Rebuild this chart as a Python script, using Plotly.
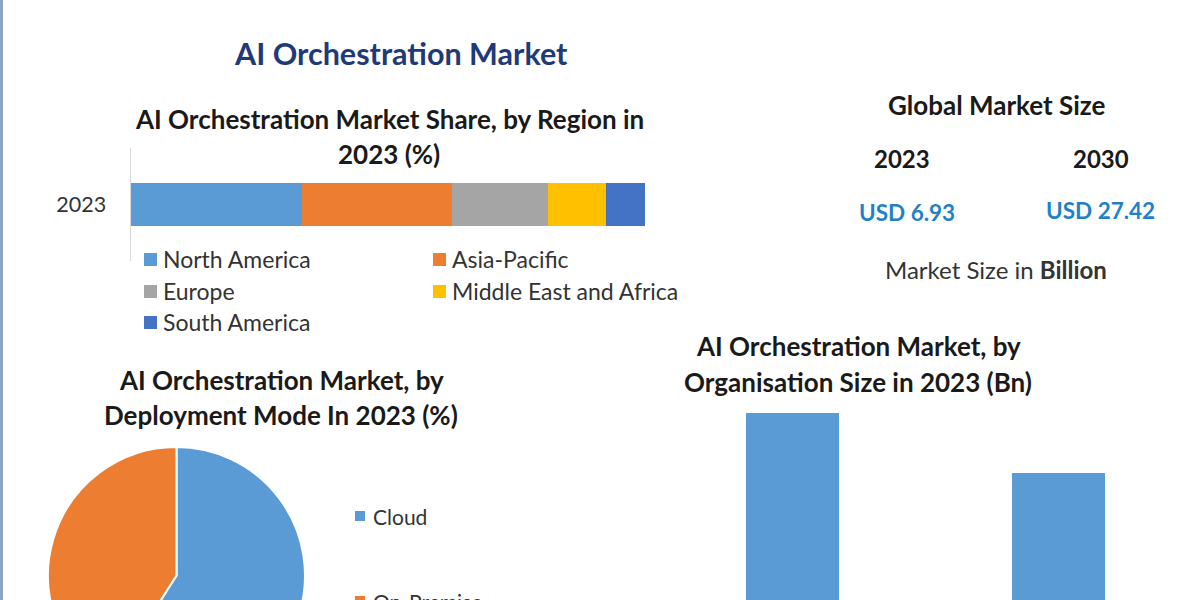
import plotly.graph_objects as go

H = 720  # taller than the window, the bottom of the pie and bars is cut off like in the original

years = ['2023']
regions = ['North America', 'Asia-Pacific', 'Europe', 'Middle East and Africa', 'South America']
region_share = [33.4, 29.1, 18.6, 11.3, 7.6]
region_colors = ['#5b9bd5', '#ed7d31', '#a5a5a5', '#ffc000', '#4472c4']

deployment = ['Cloud', 'On-Premise']
deployment_share = [59, 41]
deployment_colors = ['#5b9bd5', '#ed7d31']

org_size = ['Large Enterprises', 'SMEs']
org_value = [3.97, 2.96]

def py(y):
    return 1 - y / H

fig = go.Figure()

for name, val, col in zip(regions, region_share, region_colors):
    fig.add_trace(go.Bar(y=years, x=[val], name=name, orientation='h', marker_color=col,
                         marker_line_width=0, xaxis='x', yaxis='y', showlegend=False))

fig.add_trace(go.Pie(labels=deployment, values=deployment_share, sort=False, direction='clockwise',
                     rotation=0, textinfo='none', showlegend=False,
                     marker=dict(colors=deployment_colors, line=dict(color='white', width=2)),
                     domain=dict(x=[48 / 1200, 305 / 1200], y=[py(704), py(447)])))

fig.add_trace(go.Bar(x=org_size, y=org_value, width=0.353, marker_color='#5b9bd5', marker_line_width=0,
                     xaxis='x2', yaxis='y2', showlegend=False))

fig.update_layout(
    width=1200, height=H, margin=dict(l=0, r=0, t=0, b=0),
    paper_bgcolor='white', plot_bgcolor='white', barmode='stack', bargap=0.62,
    font=dict(family='Lato', color='#222222'),
    xaxis=dict(domain=[130.5 / 1200, 645 / 1200], range=[0, 100], visible=False),
    yaxis=dict(domain=[py(261), py(148)], type='category', showline=True, linecolor='#d9d9d9', linewidth=1,
               ticks='', ticklabelstandoff=19, tickfont=dict(size=21.5, color='#333333')),
    xaxis2=dict(domain=[659.5 / 1200, 1191.5 / 1200], anchor='y2', type='category', visible=False),
    yaxis2=dict(domain=[py(650), py(400)], range=[0, 4.188], anchor='x2', visible=False),
)

def label(text, x, y, size, color='#1a1a1a', bold=False, anchor='center'):
    fig.add_annotation(text='<b>' + text + '</b>' if bold else text, x=x / 1200, y=py(y), xref='paper', yref='paper',
                       showarrow=False, xanchor=anchor, yanchor='middle', font=dict(size=size, color=color))

label('AI Orchestration Market', 401, 53, 30.5, '#1f3a78', True)
label('AI Orchestration Market Share, by Region in', 389, 119, 26, bold=True)
label('2023 (%)', 389, 154, 26, bold=True)
label('AI Orchestration Market, by', 281, 380, 26, bold=True)
label('Deployment Mode In 2023 (%)', 281, 415, 26, bold=True)
label('AI Orchestration Market, by', 858, 346, 26, bold=True)
label('Organisation Size in 2023 (Bn)', 858, 382, 26, bold=True)
label('Global Market Size', 997, 105, 26, bold=True)
label('2023', 902, 158, 24, bold=True)
label('2030', 1101, 158, 24, bold=True)
label('USD 6.93', 907, 212, 22.5, '#1f82c8', True)
label('USD 27.42', 1100, 210, 22.5, '#1f82c8', True)
label('Market Size in <b>Billion</b>', 996, 269, 24, '#333333')

# legend of the stacked bar, two columns
legend_x = [144, 433, 144, 433, 144]
legend_y = [259, 259, 291, 291, 322]
for name, col, lx, ly in zip(regions, region_colors, legend_x, legend_y):
    fig.add_shape(type='rect', xref='paper', yref='paper', x0=lx / 1200, x1=(lx + 13) / 1200,
                  y0=py(ly + 7), y1=py(ly - 6), fillcolor=col, line_width=0)
    label(name, lx + 17, ly, 23, '#333333', anchor='left')

# legend of the pie
pie_legend_y = [516, 601]
for name, col, ly in zip(deployment, deployment_colors, pie_legend_y):
    fig.add_shape(type='rect', xref='paper', yref='paper', x0=355 / 1200, x1=365 / 1200,
                  y0=py(ly + 5), y1=py(ly - 5), fillcolor=col, line_width=0)
    label(name, 371, ly, 21, '#333333', anchor='left')

# strip on the left edge
fig.add_shape(type='rect', xref='paper', yref='paper', x0=0, x1=3 / 1200, y0=0, y1=1,
              fillcolor='#8fa3c4', line_width=0)

fig.write_html('out.html', config={'displayModeBar': False},
               post_script="document.body.style.margin='0';document.body.style.overflow='hidden';")
